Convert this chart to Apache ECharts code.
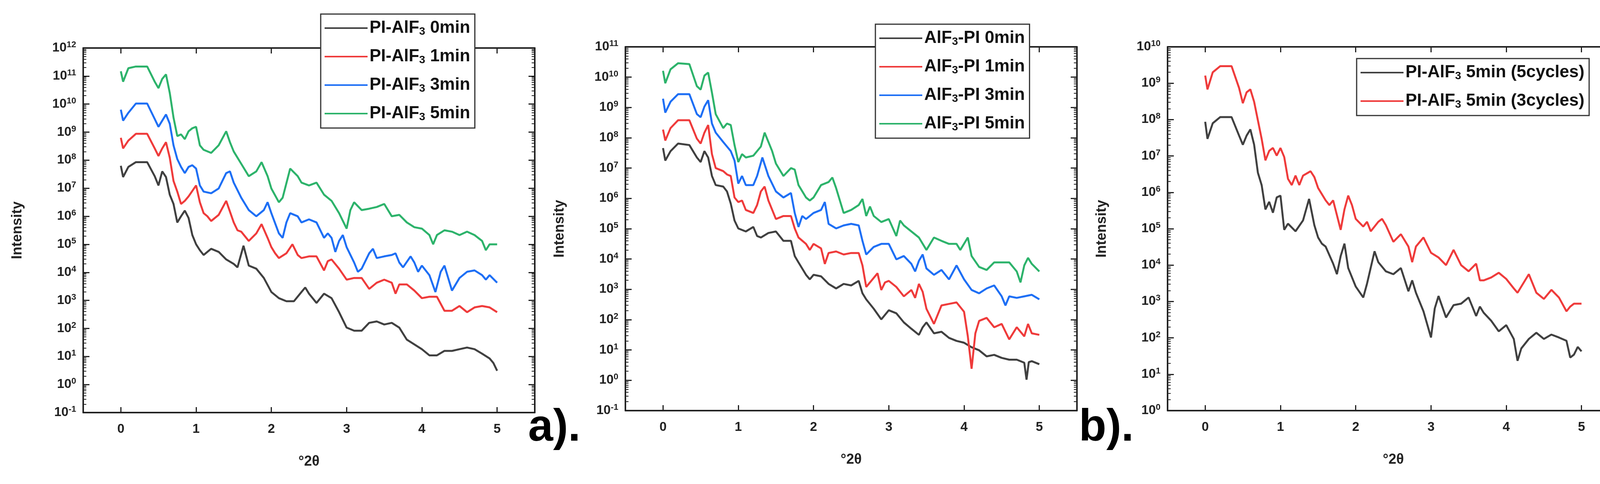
<!DOCTYPE html>
<html lang="en">
<head>
<meta charset="UTF-8">
<title>XRR</title>
<script src="https://cdn.jsdelivr.net/npm/echarts@6/dist/echarts.min.js"></script>
<style>
    html, body { margin: 0; width: 100%; height: 100%; background: #fff; overflow: hidden; }
    #chart { width: 4328px; height: 1240px; }
</style>
</head>
<body>
<div id="chart"></div>
<script>
    // values as [°2θ, log10(intensity)]
    var a0 = [[0,7.8],[0.03,7.4],[0.1,7.76],[0.2,7.93],[0.35,7.93],[0.45,7.43],[0.5,7.1],[0.55,7.6],[0.6,7.4],[0.65,6.77],[0.7,6.44],[0.75,5.78],[0.8,6.0],[0.85,6.2],[0.9,5.94],[0.95,5.33],[1.0,5.0],[1.05,4.79],[1.1,4.62],[1.2,4.84],[1.3,4.73],[1.4,4.46],[1.5,4.3],[1.55,4.18],[1.63,4.95],[1.7,4.24],[1.8,4.13],[1.9,3.8],[2.0,3.3],[2.1,3.08],[2.2,2.97],[2.3,2.97],[2.4,3.3],[2.45,3.46],[2.5,3.24],[2.6,2.91],[2.7,3.24],[2.8,3.08],[2.9,2.58],[3.0,2.03],[3.1,1.92],[3.2,1.92],[3.3,2.2],[3.4,2.25],[3.5,2.14],[3.6,2.2],[3.7,2.03],[3.8,1.6],[3.9,1.43],[4.0,1.26],[4.1,1.04],[4.2,1.04],[4.3,1.2],[4.4,1.2],[4.5,1.26],[4.6,1.32],[4.7,1.26],[4.8,1.1],[4.9,0.93],[4.95,0.77],[5.0,0.49]];
    var a1 = [[0,8.8],[0.03,8.42],[0.1,8.7],[0.2,8.94],[0.35,8.94],[0.45,8.42],[0.5,8.15],[0.55,8.42],[0.6,8.64],[0.65,8.09],[0.7,7.26],[0.75,6.88],[0.8,6.44],[0.85,6.55],[0.9,6.71],[1.0,7.1],[1.05,6.5],[1.1,6.11],[1.15,6.0],[1.2,5.83],[1.3,6.05],[1.4,6.55],[1.5,5.78],[1.55,5.5],[1.6,5.45],[1.7,5.12],[1.8,5.39],[1.87,5.72],[1.95,5.23],[2.0,4.9],[2.05,4.68],[2.1,4.51],[2.2,4.68],[2.28,5.0],[2.35,4.62],[2.4,4.51],[2.5,4.57],[2.6,4.57],[2.7,4.07],[2.75,4.4],[2.8,4.46],[2.9,4.13],[3.0,3.74],[3.1,3.8],[3.2,3.8],[3.3,3.41],[3.4,3.63],[3.5,3.74],[3.6,3.63],[3.65,3.24],[3.7,3.57],[3.8,3.57],[3.9,3.35],[4.0,3.08],[4.1,3.13],[4.2,3.13],[4.3,2.63],[4.4,2.63],[4.5,2.8],[4.6,2.58],[4.7,2.75],[4.8,2.8],[4.9,2.75],[5.0,2.58]];
    var a3 = [[0,9.8],[0.03,9.41],[0.1,9.69],[0.2,10.02],[0.35,10.02],[0.45,9.47],[0.5,9.19],[0.55,9.41],[0.6,9.63],[0.65,9.3],[0.7,8.53],[0.75,8.04],[0.8,7.76],[0.85,7.54],[0.9,7.76],[0.95,7.82],[1.0,7.7],[1.05,7.1],[1.1,6.88],[1.2,6.82],[1.3,6.99],[1.4,7.54],[1.45,7.6],[1.5,7.2],[1.6,6.66],[1.7,6.22],[1.8,6.0],[1.9,6.22],[1.95,6.5],[2.0,6.11],[2.1,5.39],[2.15,5.23],[2.2,5.78],[2.25,6.11],[2.35,6.0],[2.4,5.78],[2.5,5.89],[2.6,5.78],[2.7,5.23],[2.75,5.39],[2.8,5.23],[2.85,4.73],[2.9,5.12],[2.95,5.33],[3.0,4.9],[3.1,4.35],[3.15,4.02],[3.2,4.13],[3.3,4.68],[3.35,4.84],[3.4,4.51],[3.5,4.57],[3.6,4.62],[3.65,4.68],[3.7,4.35],[3.75,4.18],[3.85,4.57],[3.9,4.35],[3.95,4.02],[4.0,4.24],[4.1,3.9],[4.18,3.3],[4.25,4.02],[4.3,4.24],[4.4,3.35],[4.5,3.8],[4.6,4.02],[4.7,4.07],[4.8,3.9],[4.85,3.74],[4.9,3.9],[5.0,3.63]];
    var a5 = [[0,11.17],[0.03,10.8],[0.1,11.28],[0.2,11.34],[0.35,11.34],[0.45,10.8],[0.5,10.57],[0.55,10.9],[0.6,11.06],[0.65,10.4],[0.7,9.52],[0.75,8.86],[0.8,8.92],[0.85,8.75],[0.9,9.03],[0.95,9.14],[1.0,9.19],[1.05,8.53],[1.1,8.37],[1.2,8.26],[1.3,8.53],[1.4,9.03],[1.45,8.64],[1.5,8.31],[1.6,7.87],[1.7,7.43],[1.8,7.6],[1.87,7.93],[1.95,7.43],[2.0,6.99],[2.1,6.5],[2.15,6.66],[2.25,7.7],[2.35,7.43],[2.4,7.2],[2.5,7.1],[2.6,7.2],[2.7,6.77],[2.8,6.55],[2.9,6.11],[3.0,5.56],[3.05,6.22],[3.1,6.5],[3.2,6.22],[3.3,6.27],[3.4,6.33],[3.5,6.44],[3.6,6.0],[3.7,6.05],[3.8,5.78],[3.9,5.61],[4.0,5.56],[4.1,5.33],[4.15,5.0],[4.2,5.33],[4.3,5.5],[4.4,5.45],[4.5,5.33],[4.6,5.45],[4.7,5.33],[4.8,5.12],[4.85,4.79],[4.9,5.0],[5.0,5.0]];

    var b0 = [[0,7.66],[0.03,7.25],[0.1,7.56],[0.2,7.81],[0.35,7.76],[0.45,7.35],[0.5,7.2],[0.55,7.56],[0.6,7.35],[0.65,6.74],[0.7,6.44],[0.8,6.39],[0.85,6.23],[0.9,5.83],[0.95,5.27],[1.0,5.01],[1.1,4.91],[1.2,5.06],[1.25,4.76],[1.3,4.71],[1.4,4.86],[1.5,4.91],[1.6,4.6],[1.7,4.6],[1.75,4.1],[1.8,3.89],[1.9,3.48],[1.95,3.33],[2.0,3.48],[2.1,3.43],[2.2,3.18],[2.3,3.03],[2.4,3.18],[2.5,3.13],[2.6,3.28],[2.65,2.87],[2.7,2.67],[2.8,2.36],[2.9,2.01],[3.0,2.31],[3.1,2.21],[3.2,1.91],[3.3,1.7],[3.4,1.5],[3.45,1.75],[3.5,1.91],[3.6,1.55],[3.7,1.6],[3.8,1.4],[3.9,1.3],[4.0,1.24],[4.1,1.09],[4.2,0.99],[4.3,0.79],[4.4,0.84],[4.5,0.74],[4.6,0.68],[4.7,0.68],[4.8,0.58],[4.83,0.02],[4.86,0.6],[4.9,0.63],[5.0,0.53]];
    var b1 = [[0,8.27],[0.03,7.91],[0.1,8.32],[0.2,8.58],[0.35,8.58],[0.45,7.97],[0.5,7.81],[0.55,8.17],[0.6,8.42],[0.65,7.46],[0.7,7.0],[0.8,6.9],[0.85,6.79],[0.9,6.74],[0.95,6.03],[1.0,5.88],[1.05,5.93],[1.1,5.62],[1.2,5.52],[1.25,5.78],[1.3,6.23],[1.35,6.39],[1.4,5.93],[1.5,5.32],[1.6,5.42],[1.7,5.42],[1.75,5.01],[1.8,4.71],[1.9,4.5],[1.95,4.3],[2.0,4.5],[2.1,4.35],[2.15,3.84],[2.2,4.2],[2.3,4.25],[2.4,4.15],[2.5,4.2],[2.6,4.2],[2.65,3.79],[2.7,3.08],[2.8,3.38],[2.85,3.53],[2.9,2.98],[2.95,3.23],[3.0,3.28],[3.1,3.08],[3.2,2.77],[3.3,2.98],[3.35,2.72],[3.4,3.18],[3.45,2.92],[3.5,2.36],[3.6,1.86],[3.7,2.47],[3.8,2.52],[3.9,2.57],[4.0,2.26],[4.05,1.45],[4.1,0.38],[4.15,1.55],[4.2,1.96],[4.3,2.06],[4.4,1.75],[4.5,1.86],[4.6,1.35],[4.7,1.75],[4.8,1.45],[4.85,1.86],[4.9,1.55],[5.0,1.5]];
    var b3 = [[0,9.29],[0.03,8.83],[0.1,9.19],[0.2,9.44],[0.35,9.44],[0.45,8.78],[0.5,8.68],[0.55,9.03],[0.6,9.24],[0.65,8.47],[0.7,8.17],[0.8,7.86],[0.85,7.71],[0.9,7.56],[0.95,7.25],[1.0,6.49],[1.05,6.74],[1.1,6.44],[1.2,6.44],[1.25,6.74],[1.32,7.35],[1.4,6.74],[1.5,6.23],[1.6,6.03],[1.7,6.18],[1.75,5.52],[1.8,5.06],[1.85,5.42],[1.9,5.32],[2.0,5.52],[2.1,5.62],[2.15,5.88],[2.2,5.16],[2.3,5.01],[2.4,5.11],[2.5,5.16],[2.6,5.11],[2.65,4.6],[2.7,4.15],[2.8,4.4],[2.9,4.5],[3.0,4.5],[3.1,3.99],[3.2,4.1],[3.3,3.84],[3.35,3.59],[3.4,3.94],[3.45,4.15],[3.5,3.69],[3.6,3.48],[3.7,3.64],[3.8,3.33],[3.9,3.79],[4.0,3.33],[4.1,2.98],[4.2,2.87],[4.3,3.03],[4.4,3.13],[4.5,2.77],[4.55,2.47],[4.6,2.77],[4.7,2.72],[4.8,2.77],[4.9,2.82],[5.0,2.67]];
    var b5 = [[0,10.21],[0.03,9.8],[0.1,10.26],[0.2,10.46],[0.35,10.43],[0.45,9.7],[0.5,9.59],[0.55,10.05],[0.6,10.15],[0.65,9.49],[0.7,8.78],[0.8,8.32],[0.85,8.47],[0.9,8.42],[0.95,7.76],[1.0,7.2],[1.05,7.46],[1.1,7.35],[1.2,7.41],[1.3,7.71],[1.35,8.17],[1.45,7.56],[1.5,7.15],[1.6,6.74],[1.7,7.0],[1.75,6.95],[1.8,6.44],[1.9,6.03],[1.95,5.93],[2.0,6.03],[2.1,6.44],[2.2,6.54],[2.25,6.69],[2.3,6.34],[2.4,5.52],[2.5,5.62],[2.6,5.78],[2.65,5.98],[2.7,5.42],[2.75,5.73],[2.8,5.42],[2.9,5.22],[3.0,5.32],[3.1,4.76],[3.15,5.27],[3.2,5.11],[3.3,4.91],[3.4,4.71],[3.5,4.3],[3.6,4.71],[3.7,4.6],[3.8,4.5],[3.9,4.5],[3.95,4.3],[4.05,4.71],[4.1,4.1],[4.2,3.74],[4.3,3.64],[4.4,3.89],[4.5,3.89],[4.6,3.89],[4.7,3.59],[4.75,3.23],[4.8,3.79],[4.85,4.04],[4.9,3.84],[5.0,3.59]];

    var c5 = [[0,7.94],[0.03,7.47],[0.1,7.9],[0.2,8.07],[0.35,8.07],[0.45,7.56],[0.5,7.31],[0.55,7.56],[0.6,7.73],[0.65,7.31],[0.7,6.54],[0.75,6.2],[0.8,5.53],[0.85,5.74],[0.9,5.44],[0.95,5.86],[1.0,5.91],[1.05,4.97],[1.1,5.14],[1.2,4.93],[1.3,5.23],[1.38,5.82],[1.45,5.1],[1.5,4.76],[1.55,4.59],[1.6,4.51],[1.7,4.04],[1.75,3.75],[1.8,4.25],[1.85,4.59],[1.9,3.92],[2.0,3.41],[2.1,3.11],[2.15,3.49],[2.25,4.38],[2.3,4.08],[2.4,3.83],[2.5,3.75],[2.6,3.92],[2.7,3.28],[2.75,3.58],[2.8,3.24],[2.9,2.73],[3.0,2.01],[3.05,2.81],[3.1,3.15],[3.2,2.56],[3.3,2.9],[3.4,2.94],[3.5,3.11],[3.6,2.6],[3.65,2.86],[3.7,2.69],[3.8,2.47],[3.9,2.18],[4.0,2.35],[4.1,1.97],[4.15,1.37],[4.2,1.71],[4.3,1.97],[4.4,2.14],[4.5,1.97],[4.6,2.09],[4.7,2.01],[4.8,1.92],[4.85,1.46],[4.9,1.54],[4.95,1.75],[5.0,1.63]];
    var c3 = [[0,9.21],[0.03,8.83],[0.1,9.3],[0.2,9.47],[0.35,9.47],[0.45,8.87],[0.5,8.45],[0.55,8.75],[0.6,8.83],[0.65,8.49],[0.7,7.98],[0.75,7.47],[0.8,6.88],[0.85,7.14],[0.9,7.22],[0.95,7.01],[1.0,7.22],[1.05,6.97],[1.1,6.37],[1.15,6.2],[1.2,6.46],[1.25,6.2],[1.3,6.46],[1.4,6.58],[1.45,6.42],[1.5,6.12],[1.6,5.78],[1.65,5.65],[1.7,5.78],[1.8,4.97],[1.85,5.53],[1.9,5.91],[1.95,5.65],[2.0,5.27],[2.1,5.06],[2.15,5.19],[2.2,4.93],[2.3,5.19],[2.35,5.27],[2.4,5.1],[2.5,4.64],[2.6,4.85],[2.7,4.51],[2.75,4.08],[2.8,4.51],[2.9,4.76],[3.0,4.34],[3.1,4.21],[3.2,4.0],[3.3,4.42],[3.4,4.0],[3.5,3.83],[3.6,4.04],[3.65,3.58],[3.7,3.58],[3.8,3.66],[3.9,3.79],[4.0,3.62],[4.1,3.36],[4.15,3.24],[4.3,3.75],[4.4,3.24],[4.5,3.07],[4.6,3.32],[4.7,3.11],[4.8,2.73],[4.85,2.86],[4.9,2.94],[5.0,2.94]];

    var namesA = ['PI-AlF3 0min', 'PI-AlF3 1min', 'PI-AlF3 3min', 'PI-AlF3 5min'];
    var namesB = ['AlF3-PI 0min', 'AlF3-PI 1min', 'AlF3-PI 3min', 'AlF3-PI 5min'];
    var namesC = ['PI-AlF3 5min (5cycles)', 'PI-AlF3 5min (3cycles)'];
    var colors = ['#404040', '#ef3b3b', '#1e6ff5', '#2db36b'];
    var yRanges = [[0.1, 1e12], [0.1, 1e11], [1, 1e10]];

    var FONT = '"Liberation Sans", Arial, sans-serif';

    function toI(arr) {
        return arr.map(function (p) { return [p[0], Math.pow(10, p[1])]; });
    }

    var grids = [
        {left: 213, width: 1156, top: 123, height: 934},
        {left: 1601, width: 1156, top: 120, height: 932},
        {left: 2989, width: 1156, top: 120, height: 932}
    ];

    var xAxes = [], yAxes = [], series = [], legends = [], graphics = [];
    grids.forEach(function (g, i) {
        var base = {
            gridIndex: i, type: 'value', min: -0.5, max: 5.5, interval: 1,
            axisLine: {show: true, onZero: false, lineStyle: {color: '#222', width: 4}},
            axisTick: {show: true, inside: true, length: 14, lineStyle: {color: '#222', width: 3},
                customValues: [0, 1, 2, 3, 4, 5]},
            minorTick: {show: true, splitNumber: 2, length: 8, lineStyle: {color: '#222', width: 2}},
            splitLine: {show: false}
        };
        xAxes.push(Object.assign({}, base, {
            position: 'bottom',
            axisLabel: {show: true, fontFamily: FONT, fontWeight: 'bold', fontSize: 33, color: '#222', margin: 26,
                customValues: [0, 1, 2, 3, 4, 5]},
            name: '°2θ', nameLocation: 'middle', nameGap: 108,
            nameTextStyle: {fontFamily: FONT, fontWeight: 'bold', fontSize: 36, color: '#222'}
        }));
        xAxes.push(Object.assign({}, base, {position: 'top', axisLabel: {show: false}}));
        var ybase = {
            gridIndex: i, type: 'log', logBase: 10, min: yRanges[i][0], max: yRanges[i][1], interval: 1,
            axisLine: {show: true, onZero: false, lineStyle: {color: '#222', width: 4}},
            axisTick: {show: true, inside: true, length: 16, lineStyle: {color: '#222', width: 3}},
            minorTick: {show: true, splitNumber: 9, length: 8, lineStyle: {color: '#222', width: 2}},
            splitLine: {show: false}
        };
        yAxes.push(Object.assign({}, ybase, {
            position: 'left',
            axisLabel: {
                show: true, margin: 18,
                formatter: function (v) {
                    var e = Math.round(Math.log10(v));
                    return '{b|10}{s|' + e + '}';
                },
                rich: {
                    b: {fontFamily: FONT, fontWeight: 'bold', fontSize: 33, color: '#222'},
                    s: {fontFamily: FONT, fontWeight: 'bold', fontSize: 22, color: '#222', verticalAlign: 'top', padding: [0, 0, 16, 0]}
                }
            },
            name: 'Intensity', nameLocation: 'middle', nameGap: 150,
            nameTextStyle: {fontFamily: FONT, fontWeight: 'bold', fontSize: 36, color: '#222'}
        }));
        yAxes.push(Object.assign({}, ybase, {position: 'right', axisLabel: {show: false}}));
    });

    function addSeries(names, arrs, cols, gi) {
        names.forEach(function (n, k) {
            series.push({
                name: n, type: 'line', xAxisIndex: gi * 2, yAxisIndex: gi * 2,
                data: toI(arrs[k]), showSymbol: false, smooth: false,
                lineStyle: {color: cols[k], width: 5}, itemStyle: {color: cols[k]},
                z: 3
            });
        });
    }
    addSeries(namesA, [a0, a1, a3, a5], colors, 0);
    addSeries(namesB, [b0, b1, b3, b5], colors, 1);
    addSeries(namesC, [c5, c3], [colors[0], colors[1]], 2);

    function legendFmt(name) {
        var parts = name.split('AlF3');
        return parts[0] + 'AlF{sub|3}' + parts[1];
    }
    var legendText = {
        fontFamily: FONT, fontWeight: 'bold', fontSize: 44, color: '#111',
        rich: {sub: {fontFamily: FONT, fontWeight: 'bold', fontSize: 28, color: '#111', verticalAlign: 'bottom', padding: [18, 0, 0, 0]}}
    };
    function legend(names, left, top) {
        return {
            data: names, left: left, top: top, orient: 'vertical',
            backgroundColor: '#fff', borderColor: '#333', borderWidth: 3,
            padding: [14, 12, 14, 10], itemGap: 28, itemWidth: 110, itemHeight: 44,
            icon: 'path://M0,20 L110,20 L110,24 L0,24 Z',
            formatter: legendFmt, textStyle: legendText, z: 10
        };
    }
    legends.push(legend(namesA, 821, 36));
    legends.push(legend(namesB, 2241, 62));
    legends.push(legend(namesC, 3473, 150));

    var panelTags = ['a).', 'b).', 'c).'];
    var tagLeft = [1352, 2762, 4148];
    panelTags.forEach(function (t, i) {
        graphics.push({
            type: 'text', x: tagLeft[i], y: 1040, z: 20,
            style: {text: t, fontFamily: FONT, fontWeight: 'bold', fontSize: 115, fill: '#000'}
        });
    });

    var chart = echarts.init(document.getElementById('chart'));
    chart.setOption({
        animation: false,
        backgroundColor: '#fff',
        grid: grids,
        xAxis: xAxes,
        yAxis: yAxes,
        legend: legends,
        series: series,
        graphic: graphics
    });
</script>
</body>
</html>
